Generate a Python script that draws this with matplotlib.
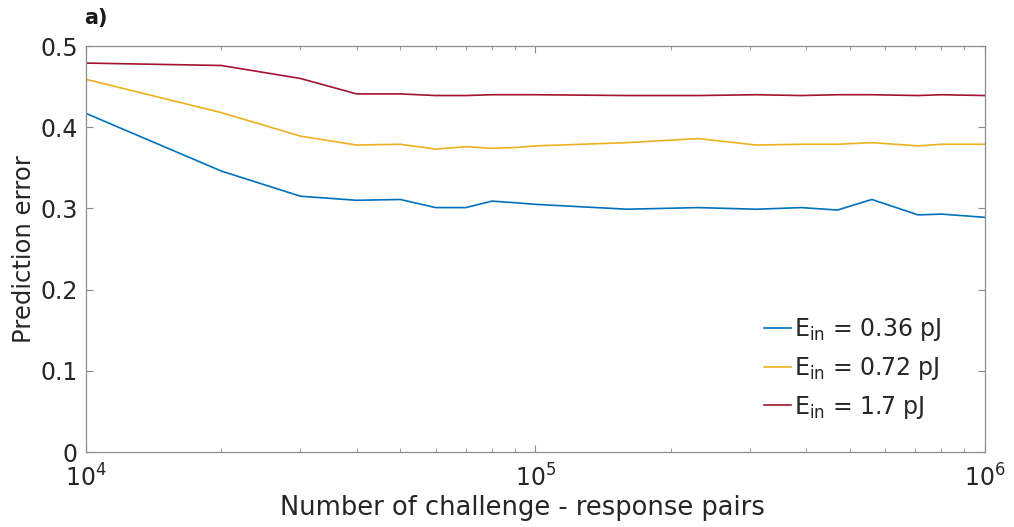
import numpy as np
import matplotlib
matplotlib.use("Agg")
import matplotlib.pyplot as plt
from matplotlib.ticker import LogLocator, NullFormatter

plt.rcParams['font.family'] = ['DejaVu Sans']
plt.rcParams['mathtext.default'] = 'regular'

# number of CRPs used for training
n_crp = [1e4, 2e4, 3e4, 4e4, 5e4, 6e4, 7e4, 8e4, 9e4, 1e5,
         1.6e5, 2.3e5, 3.1e5, 3.9e5, 4.7e5, 5.6e5, 7.1e5, 8e5, 1e6]

err_036 = [0.417, 0.346, 0.315, 0.310, 0.311, 0.301, 0.301, 0.309, 0.307, 0.305,
           0.299, 0.301, 0.299, 0.301, 0.298, 0.311, 0.292, 0.293, 0.289]
err_072 = [0.459, 0.418, 0.389, 0.378, 0.379, 0.373, 0.376, 0.374, 0.375, 0.377,
           0.381, 0.386, 0.378, 0.379, 0.379, 0.381, 0.377, 0.379, 0.379]
err_17 = [0.479, 0.476, 0.460, 0.441, 0.441, 0.439, 0.439, 0.440, 0.440, 0.440,
          0.439, 0.439, 0.440, 0.439, 0.440, 0.440, 0.439, 0.440, 0.439]

labels = ['E$_{in}$ = 0.36 pJ', 'E$_{in}$ = 0.72 pJ', 'E$_{in}$ = 1.7 pJ']
colors = ['#0072BD', '#EDB120', '#A2142F']
txt = '#262626'
spine = '#8c8c8c'

fig = plt.figure(figsize=(10.14, 5.27), dpi=100)
ax = fig.add_axes([0.0848, 0.1423, 0.8866, 0.7704])

for y, c, lab in zip([err_036, err_072, err_17], colors, labels):
    ax.plot(n_crp, y, color=c, lw=1.2, label=lab)

ax.set_xscale('log')
ax.set_xlim(1e4, 1e6)
ax.set_ylim(0, 0.5)
ax.set_yticks([0, 0.1, 0.2, 0.3, 0.4, 0.5])
ax.set_yticklabels(['0', '0.1', '0.2', '0.3', '0.4', '0.5'])
ax.xaxis.set_major_locator(LogLocator(base=10))
ax.xaxis.set_minor_locator(LogLocator(base=10, subs=np.arange(2, 10)))
ax.xaxis.set_minor_formatter(NullFormatter())

ax.tick_params(which='both', direction='in', top=True, right=True,
               colors=spine, labelcolor=txt, labelsize=17)
ax.tick_params(which='major', length=5, width=0.8)
ax.tick_params(which='minor', length=3, width=0.6)
ax.tick_params(axis='x', pad=9)
ax.tick_params(axis='y', pad=6)
for s in ax.spines.values():
    s.set_color(spine)
    s.set_linewidth(0.9)

ax.set_xlabel('Number of challenge - response pairs', fontsize=18.5, color=txt)
ax.xaxis.set_label_coords(0.486, -0.105)
ax.set_ylabel('Prediction error', fontsize=17.5, color=txt, labelpad=3)

leg = ax.legend(loc='lower right', bbox_to_anchor=(0.975, 0.025), frameon=False,
                fontsize=17, handlelength=1.15, handletextpad=0.1, labelspacing=0.5)
for t in leg.get_texts():
    t.set_color(txt)

fig.text(0.083, 0.955, 'a)', fontsize=15, fontweight='bold', color='#1a1a1a')

fig.savefig('out.png', dpi=100)
